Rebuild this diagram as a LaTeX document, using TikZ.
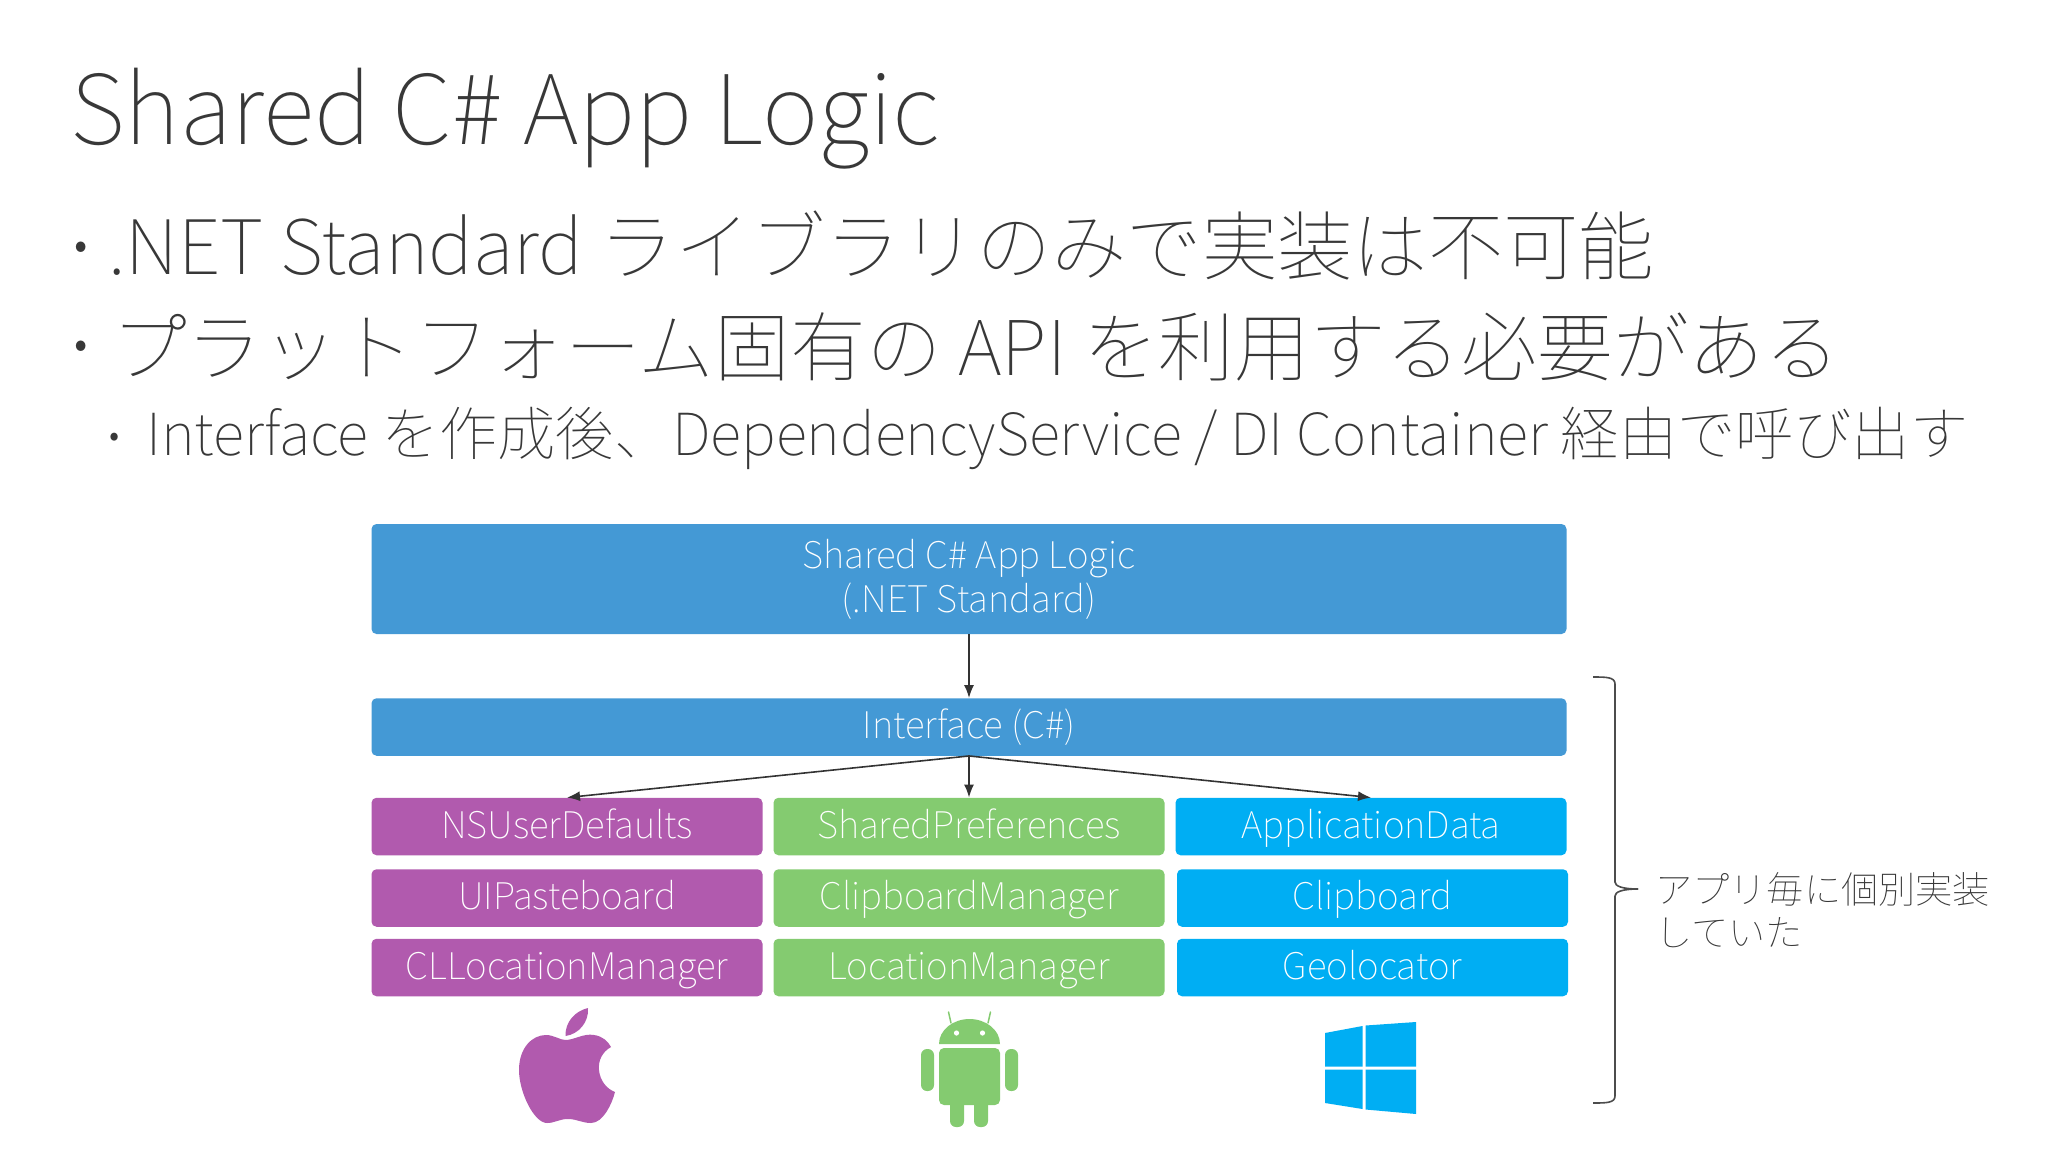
\documentclass[tikz,border=0pt]{standalone}
\usepackage{fontspec}
\setmainfont{Noto Sans CJK JP}[UprightFont=* Thin,BoldFont=* Light]
\usetikzlibrary{arrows.meta}
\definecolor{inkc}{HTML}{383838}
\definecolor{boxblue}{HTML}{4499D5}
\definecolor{boxpurple}{HTML}{B15AAE}
\definecolor{boxgreen}{HTML}{84CB70}
\definecolor{boxcyan}{HTML}{00AEF3}
\newcommand{\fs}[1]{\fontsize{#1pt}{#1pt}\selectfont}
\tikzset{
  x=1pt,y=-1pt,
  line/.style={anchor=base west,inner sep=0pt,text=inkc},
  dot/.style={anchor=center,inner sep=0pt,text=inkc},
  cellbase/.style={rectangle,rounded corners=5pt,inner sep=0pt,text=white,font=\fs{36.8},
    minimum width=391pt,minimum height=57.5pt,anchor=center},
  cell/.style={cellbase,text height=30pt,text depth=7pt},
  wide/.style={cell,minimum width=1195pt},
  conn/.style={draw=black!80,line width=1.6pt,-{Latex[length=13pt,width=10pt]}},
  bracecurve/.style={draw=black!70,line width=1.6pt}
}
\begin{document}
\begin{tikzpicture}
\useasboundingbox (0,0) rectangle (2048,1152);
\fill[white] (0,0) rectangle (2048,1152);
% heading
\node[line,font=\fs{96.2}] (title) at (70,144) {Shared C\# App Logic};
\node[dot,font=\fs{42}\bfseries] (b1) at (81,251) {•};
\node[line,font=\fs{75.3}] (l1) at (108,274) {.NET Standard ライブラリのみで実装は不可能};
\node[dot,font=\fs{42}\bfseries] (b2) at (81,350) {•};
\node[line,font=\fs{75.7}] (l2) at (111,375) {プラットフォーム固有の API を利用する必要がある};
\node[dot,font=\fs{32}\bfseries] (b3) at (115,440) {•};
\node[line,font=\fs{58.2}] (l3) at (146,455) {Interface を作成後、DependencyService / DI Container 経由で呼び出す};
% boxes
\node[cellbase,minimum width=1195pt,fill=boxblue,minimum height=110pt,align=center,font=\fontsize{36.8pt}{44pt}\selectfont] (shared) at (969,579) {Shared C\# App Logic\\(.NET Standard)};
\node[wide,fill=boxblue] (iface) at (969,727) {Interface (C\#)};
\node[cell,fill=boxpurple] (p1) at (567,826.5) {NSUserDefaults};
\node[cell,fill=boxpurple] (p2) at (567,898) {UIPasteboard};
\node[cell,fill=boxpurple] (p3) at (567,967.5) {CLLocationManager};
\node[cell,fill=boxgreen] (g1) at (969,826.5) {SharedPreferences};
\node[cell,fill=boxgreen] (g2) at (969,898) {ClipboardManager};
\node[cell,fill=boxgreen] (g3) at (969,967.5) {LocationManager};
\node[cell,fill=boxcyan] (c1) at (1371,826.5) {ApplicationData};
\node[cell,fill=boxcyan] (c2) at (1372.5,898) {Clipboard};
\node[cell,fill=boxcyan] (c3) at (1372.5,967.5) {Geolocator};
% connectors
\draw[conn] (shared.south) -- (iface.north);
\draw[conn] (iface.south) -- (p1.north);
\draw[conn] (iface.south) -- (g1.north);
\draw[conn] (iface.south) -- (c1.north);
% brace
\coordinate (bt) at (1593,677);
\coordinate (bb) at (1593,1103);
\coordinate (btip) at (1638,889);
\draw[bracecurve] (bt) .. controls (1606,677) and (1615,677) .. (1615,684) -- (1615,882)
  .. controls (1615,886) and (1622,889) .. (btip);
\draw[bracecurve] (btip) .. controls (1622,889) and (1615,892) .. (1615,896) -- (1615,1096)
  .. controls (1615,1103) and (1606,1103) .. (bb);
\node[line,font=\fs{37.2}] (s1) at (1655,903) {アプリ毎に個別実装};
\node[line,font=\fs{37.2}] (s2) at (1655,946) {していた};
% apple
\fill[boxpurple] (565.5,1040) .. controls (574,1040) and (584,1033) .. (594,1035)
  .. controls (602,1036) and (608,1041) .. (611,1047)
  .. controls (602,1052) and (598,1061) .. (599,1070)
  .. controls (600,1081) and (607,1089) .. (615,1092)
  .. controls (612,1104) and (603,1123) .. (591,1123)
  .. controls (582,1123) and (577,1119) .. (568,1119)
  .. controls (559,1119) and (555,1123) .. (547,1123)
  .. controls (534,1123) and (519,1092) .. (519,1070)
  .. controls (519,1048) and (532,1035) .. (546,1035)
  .. controls (554,1035) and (560,1040) .. (565.5,1040) -- cycle;
\fill[boxpurple] (565.5,1036) .. controls (565,1022) and (575,1011) .. (588,1008)
  .. controls (589,1022) and (579,1034) .. (565.5,1036) -- cycle;
% android
\fill[boxgreen] (939,1044) .. controls (939,1030) and (953,1019) .. (969.5,1019)
  .. controls (986,1019) and (1000,1030) .. (1000,1044) -- cycle;
\draw[boxgreen,line width=1.5pt,line cap=round] (951,1023) -- (948.5,1012);
\draw[boxgreen,line width=1.5pt,line cap=round] (988,1023) -- (990.5,1012);
\fill[white] (956.5,1033) circle (2.6);
\fill[white] (982.5,1033) circle (2.6);
\fill[boxgreen,rounded corners=5pt] (939,1048) -- (1000,1048) -- (1000,1105) -- (939,1105) -- cycle;
\fill[boxgreen,rounded corners=6pt] (921,1049) rectangle (934,1091);
\fill[boxgreen,rounded corners=6pt] (1005,1049) rectangle (1018,1091);
\fill[boxgreen,rounded corners=6pt] (950,1095) rectangle (964,1127);
\fill[boxgreen,rounded corners=6pt] (974,1095) rectangle (988,1127);
% windows
\fill[boxcyan] (1325,1033) -- (1362.5,1026) -- (1362.5,1066.5) -- (1325,1066.5) -- cycle;
\fill[boxcyan] (1365.5,1025.5) -- (1416,1022) -- (1416,1066.5) -- (1365.5,1066.5) -- cycle;
\fill[boxcyan] (1325,1069.5) -- (1362.5,1069.5) -- (1362.5,1109) -- (1325,1103) -- cycle;
\fill[boxcyan] (1365.5,1069.5) -- (1416,1069.5) -- (1416,1114) -- (1365.5,1109.5) -- cycle;
\end{tikzpicture}
\end{document}
